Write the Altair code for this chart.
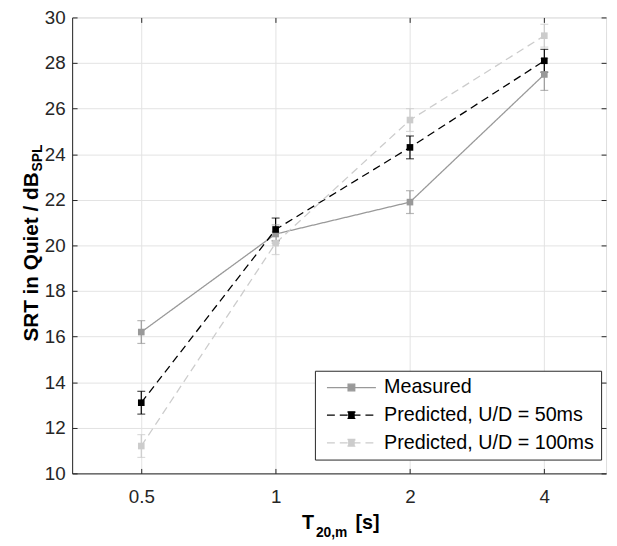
import altair as alt
import pandas as pd

# ---- data ----
x_vals = [0.5, 1, 2, 4]
series_names = ["Measured", "Predicted, U/D = 50ms", "Predicted, U/D = 100ms"]
measured = [16.2, 20.5, 21.9, 27.5]
measured_err = [0.5, 0.4, 0.5, 0.7]
pred50 = [13.1, 20.7, 24.3, 28.1]
pred50_err = [0.5, 0.5, 0.5, 0.5]
pred100 = [11.2, 20.1, 25.5, 29.2]
pred100_err = [0.5, 0.5, 0.5, 0.5]
x_ticks = [0.5, 1, 2, 4]
y_ticks = [10, 12, 14, 16, 18, 20, 22, 24, 26, 28, 30]

colors = ["#999999", "#000000", "#cccccc"]
dashes = [[1, 0], [8, 5], [8, 5]]

rows = []
for name, ys, es in zip(series_names, [measured, pred50, pred100],
                        [measured_err, pred50_err, pred100_err]):
    for xv, yv, ev in zip(x_vals, ys, es):
        rows.append({"series": name, "x": xv, "y": yv, "lo": yv - ev, "hi": yv + ev})
df = pd.DataFrame(rows)

FONT = "Liberation Sans"
W, H = 541, 462
AX = "#262626"
TICK_FS = 19

xscale = alt.Scale(type="log", base=2, domain=[0.35, 5.5], nice=False)
yscale = alt.Scale(domain=[10, 30], nice=False, zero=False)
cscale = alt.Scale(domain=series_names, range=colors)
dscale = alt.Scale(domain=series_names, range=dashes)

base = alt.Chart(df)


def tick_axis(values, orient):
    return alt.Axis(values=values, orient=orient, labels=False, title=None, grid=False,
                    domain=False, ticks=True, tickColor=AX, tickSize=5, offset=-5)


x_main = alt.X("x:Q", scale=xscale, axis=alt.Axis(
    values=x_ticks, format="~g", title=None, orient="bottom",
    grid=True, gridColor="#e3e3e3", domainColor=AX, ticks=False, tickSize=0,
    labelPadding=15, labelFontSize=TICK_FS, labelFont=FONT, labelColor=AX))
y_main = alt.Y("y:Q", scale=yscale, axis=alt.Axis(
    values=y_ticks, title=None, orient="left",
    grid=True, gridColor="#e3e3e3", domainColor=AX, ticks=False, tickSize=0,
    labelPadding=7, labelFontSize=TICK_FS, labelFont=FONT, labelColor=AX))

legend_path = "M-3.1,0H3.1M-0.42,-0.42H0.42V0.42H-0.42Z"

lines = base.mark_line(strokeWidth=1.3).encode(
    x=x_main, y=y_main,
    color=alt.Color("series:N", scale=cscale, legend=alt.Legend(
        title=None, orient="none", legendX=246, legendY=358,
        symbolType=legend_path, symbolSize=256, symbolStrokeWidth=1.3,
        symbolOffset=20, labelLimit=400,
        labelFontSize=20, labelFont=FONT, labelColor="#000000", labelOffset=23,
        rowPadding=8, padding=7, strokeColor=AX, fillColor="white")),
    strokeDash=alt.StrokeDash("series:N", scale=dscale, legend=None),
    order=alt.Order("x:Q"),
)

rules = base.mark_rule(strokeWidth=1.2).encode(
    x=alt.X("x:Q", scale=xscale, axis=tick_axis(x_ticks, "bottom")),
    y=alt.Y("lo:Q", scale=yscale, axis=tick_axis(y_ticks, "left")), y2="hi:Q",
    color=alt.Color("series:N", scale=cscale, legend=None))
caps_lo = base.mark_tick(orient="horizontal", size=8, thickness=1.2).encode(
    x=alt.X("x:Q", scale=xscale, axis=None),
    y=alt.Y("lo:Q", scale=yscale, axis=None),
    color=alt.Color("series:N", scale=cscale, legend=None))
caps_hi = base.mark_tick(orient="horizontal", size=8, thickness=1.2).encode(
    x=alt.X("x:Q", scale=xscale, axis=None),
    y=alt.Y("hi:Q", scale=yscale, axis=None),
    color=alt.Color("series:N", scale=cscale, legend=None))
points = base.mark_point(shape="square", filled=True, size=45, opacity=1).encode(
    x=alt.X("x:Q", scale=xscale, axis=tick_axis(x_ticks, "top")),
    y=alt.Y("y:Q", scale=yscale, axis=tick_axis(y_ticks, "right")),
    color=alt.Color("series:N", scale=cscale, legend=None))

one = alt.Data(values=[{"k": 1}])
ytitle_main = alt.Chart(one).mark_text(
    text="SRT in Quiet / dB", angle=270, align="right", baseline="alphabetic",
    fontSize=21, fontWeight="bold", font=FONT, color="#000000"
).encode(x=alt.value(-35), y=alt.value(157))
ytitle_sub = alt.Chart(one).mark_text(
    text="SPL", angle=270, align="left", baseline="alphabetic",
    fontSize=14, fontWeight="bold", font=FONT, color="#000000"
).encode(x=alt.value(-31), y=alt.value(156))
xtitle_T = alt.Chart(one).mark_text(
    text="T", align="left", baseline="alphabetic",
    fontSize=20, fontWeight="bold", font=FONT, color="#000000"
).encode(x=alt.value(233), y=alt.value(518))
xtitle_sub = alt.Chart(one).mark_text(
    text="20,m", align="left", baseline="alphabetic",
    fontSize=14, fontWeight="bold", font=FONT, color="#000000"
).encode(x=alt.value(247), y=alt.value(526))
xtitle_s = alt.Chart(one).mark_text(
    text="[s]", align="left", baseline="alphabetic",
    fontSize=20, fontWeight="bold", font=FONT, color="#000000"
).encode(x=alt.value(287), y=alt.value(518))

chart = alt.layer(
    lines, rules, caps_lo, caps_hi, points,
    ytitle_main, ytitle_sub, xtitle_T, xtitle_sub, xtitle_s
).resolve_axis(x="independent", y="independent").resolve_scale(
    x="shared", y="shared"
).properties(
    width=W, height=H,
    autosize=alt.AutoSizeParams(type="none"),
    padding={"left": 65, "top": 6, "right": 3, "bottom": 70},
).configure_view(stroke=AX, strokeWidth=1).configure(background="white")

chart.save("out.html", embed_options={"renderer": "svg", "actions": False})
